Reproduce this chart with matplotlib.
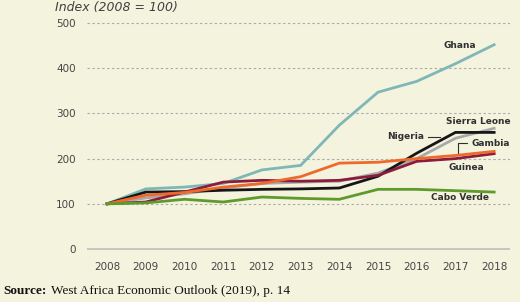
import matplotlib
matplotlib.use("Agg")
import matplotlib.pyplot as plt

years = list(range(2008, 2019))
ghana = [100, 133, 137, 145, 175, 185, 274, 347, 371, 410, 452]
sierra_leone = [100, 113, 122, 135, 145, 148, 150, 168, 200, 245, 267]
nigeria = [100, 126, 127, 130, 132, 133, 135, 161, 212, 258, 258]
gambia = [100, 119, 125, 137, 145, 160, 190, 192, 200, 207, 216]
guinea = [100, 104, 126, 148, 152, 150, 152, 163, 194, 200, 211]
cabo_verde = [100, 102, 110, 104, 115, 112, 110, 132, 132, 129, 126]

series = [
    ("Ghana", ghana, "#80b7b6"),
    ("Sierra Leone", sierra_leone, "#a9a9a9"),
    ("Nigeria", nigeria, "#161616"),
    ("Guinea", guinea, "#8c1c3c"),
    ("Gambia", gambia, "#ee6a2c"),
    ("Cabo Verde", cabo_verde, "#5f9a2c"),
]
yticks = [0, 100, 200, 300, 400, 500]

bg = "#f3f3de"
fig = plt.figure(figsize=(5.2, 3.02), dpi=100, facecolor=bg)
ax = fig.add_axes([0.1673, 0.1656, 0.8135, 0.768], facecolor=bg)
ax.set_xlim(2007.48, 2018.41)
ax.set_ylim(-6.6, 506.6)

for y in yticks[1:]:
    ax.axhline(y, color="#acacac", lw=0.8, ls=(0, (2.2, 2.2)), zorder=1)
ax.axhline(0, color="#bdbdbd", lw=1.2, zorder=1)

for name, vals, col in series:
    ax.plot(years, vals, color=col, lw=2.0, zorder=3, solid_joinstyle="miter")

for s in ax.spines.values():
    s.set_visible(False)
ax.set_yticks(yticks)
ax.set_yticklabels([str(v) for v in yticks], fontsize=7.5, color="#454545", family="DejaVu Sans")
ax.set_xticks(years)
ax.set_xticklabels([str(y) for y in years], fontsize=7.5, color="#454545", family="DejaVu Sans")
ax.tick_params(length=0, axis="y", pad=8)
ax.tick_params(length=0, axis="x", pad=7)

lab = dict(fontsize=6.5, color="#303030", fontweight="bold", family="DejaVu Sans", ha="center", va="center")
ax.text(2017.1, 451, "Ghana", **lab)
ax.text(2017.59, 283, "Sierra Leone", **lab)
ax.text(2015.7, 248, "Nigeria", **lab)
ax.plot([2016.3, 2016.6], [248, 248], color="#303030", lw=0.8)
ax.text(2017.9, 234, "Gambia", **lab)
ax.plot([2017.07, 2017.07, 2017.3], [213, 234, 234], color="#303030", lw=0.8)
ax.text(2017.28, 181, "Guinea", **lab)
ax.text(2017.12, 113, "Cabo Verde", **lab)

fig.text(55/520, 1 - 7/302, "Index (2008 = 100)", fontsize=9, style="italic",
         color="#404040", family="DejaVu Sans", ha="left", va="center")
fig.text(3/520, 1 - 291/302, "Source:", fontsize=9.5, family="Liberation Serif",
         fontweight="bold", va="center", ha="left", color="#111111")
fig.text(51/520, 1 - 291/302, "West Africa Economic Outlook (2019), p. 14", fontsize=9.5,
         family="Liberation Serif", va="center", ha="left", color="#111111")

fig.savefig("out.png", dpi=100, facecolor=bg)
